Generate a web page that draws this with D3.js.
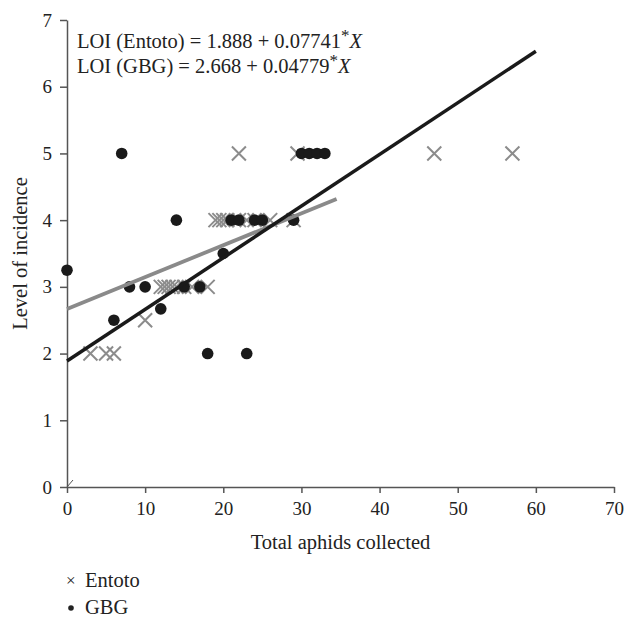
<!DOCTYPE html>
<html>
<head>
<meta charset="utf-8">
<script src="https://cdn.jsdelivr.net/npm/d3@7"></script>
<style>
  html, body { margin: 0; padding: 0; background: #fff; }
  svg { display: block; font-family: "Liberation Serif", "DejaVu Serif", serif; }
</style>
</head>
<body>
<svg id="chart" width="628" height="624"></svg>
<script>
// ---- Data ----
const entotoX = [3, 5, 6, 10, 12, 12.5, 13, 13.5, 14, 15, 16, 18, 19, 19.5, 20, 20.5, 22, 23, 24, 26, 29, 22, 29.5, 47, 57];
const entotoY = [2, 2, 2, 2.5, 3, 3, 3, 3, 3, 3, 3, 3, 4, 4, 4, 4, 4, 4, 4, 4, 4, 5, 5, 5, 5];
const gbgX = [0, 7, 6, 8, 10, 12, 14, 15, 17, 18, 20, 21, 22, 24, 25, 23, 29, 30, 31, 32, 33];
const gbgY = [3.25, 5, 2.5, 3, 3, 2.67, 4, 3, 3, 2, 3.5, 4, 4, 4, 4, 2, 4, 5, 5, 5, 5];
const lineEntoto = { intercept: 1.888, slope: 0.07741, xEnd: 60 };
const lineGBG = { intercept: 2.668, slope: 0.04779, xEnd: 34.5 };
const xTicks = [0, 10, 20, 30, 40, 50, 60, 70];
const yTicks = [0, 1, 2, 3, 4, 5, 6, 7];
const legendLabels = ["Entoto", "GBG"];

// ---- Layout ----
const svg = d3.select("#chart");
const x = d3.scaleLinear().domain([0, 70]).range([67, 614]);
const y = d3.scaleLinear().domain([0, 7]).range([487, 20]);
const axisColor = "#555";
const textColor = "#222";

// Axes
const gx = svg.append("g").attr("transform", `translate(0,${y(0)})`)
  .call(d3.axisBottom(x).tickValues(xTicks).tickFormat(d3.format("d")).tickSize(6).tickPadding(9).tickSizeOuter(0));
gx.selectAll("text").attr("font-size", 19).attr("fill", textColor).attr("font-family", "Liberation Serif, serif");
gx.selectAll("line, path").attr("stroke", axisColor).attr("stroke-width", 1.5);

const gy = svg.append("g").attr("transform", `translate(${x(0)},0)`)
  .call(d3.axisLeft(y).tickValues(yTicks).tickFormat(d3.format("d")).tickSize(7).tickPadding(8).tickSizeOuter(0));
gy.selectAll("text").attr("font-size", 19).attr("fill", textColor).attr("font-family", "Liberation Serif, serif");
gy.selectAll("line, path").attr("stroke", axisColor).attr("stroke-width", 1.5);

// Axis break slash at origin
svg.append("line")
  .attr("x1", x(0)).attr("y1", y(0))
  .attr("x2", x(0) + 6).attr("y2", y(0) - 7)
  .attr("stroke", axisColor).attr("stroke-width", 1);

// Axis titles
svg.append("text").attr("x", x(35)).attr("y", 549)
  .attr("text-anchor", "middle").attr("font-size", 20.5).attr("fill", textColor)
  .text("Total aphids collected");
svg.append("text")
  .attr("transform", `translate(27,${(y(0) + y(7)) / 2}) rotate(-90)`)
  .attr("text-anchor", "middle").attr("font-size", 20.5).attr("fill", textColor)
  .text("Level of incidence");

// Entoto crosses (gray)
const cs = 7;
const crosses = svg.append("g").attr("stroke", "#8c8c8c").attr("stroke-width", 2);
entotoX.forEach((d, i) => {
  const cx = x(d), cy = y(entotoY[i]);
  crosses.append("path").attr("d", `M${cx - cs},${cy - cs}L${cx + cs},${cy + cs}M${cx - cs},${cy + cs}L${cx + cs},${cy - cs}`);
});

// GBG dots (black)
svg.append("g").selectAll("circle").data(gbgX).join("circle")
  .attr("cx", d => x(d)).attr("cy", (d, i) => y(gbgY[i])).attr("r", 5.8)
  .attr("fill", "#1a1a1a");

// Regression lines
function regLine(l, color, w) {
  svg.append("line")
    .attr("x1", x(0)).attr("y1", y(l.intercept))
    .attr("x2", x(l.xEnd)).attr("y2", y(l.intercept + l.slope * l.xEnd))
    .attr("stroke", color).attr("stroke-width", w);
}
regLine(lineGBG, "#8a8a8a", 3.8);
regLine(lineEntoto, "#1a1a1a", 3.5);

// Equations
const eq = [
  ["LOI (Entoto) = 1.888 + 0.07741", 48],
  ["LOI (GBG) = 2.668 + 0.04779", 73]
];
eq.forEach(([t, by]) => {
  const tx = svg.append("text").attr("x", 77).attr("y", by).attr("font-size", 20.5).attr("fill", textColor);
  tx.append("tspan").text(t);
  tx.append("tspan").attr("dy", -7).attr("font-size", 17).text("*");
  tx.append("tspan").attr("dy", 7).attr("font-style", "italic").text("X");
});

// Legend
const lg = svg.append("g");
lg.append("text").attr("x", 66).attr("y", 586).attr("font-size", 17).attr("fill", textColor).text("×");
lg.append("text").attr("x", 85).attr("y", 587).attr("font-size", 20.5).attr("fill", textColor).text(legendLabels[0]);
lg.append("circle").attr("cx", 71).attr("cy", 608).attr("r", 2.8).attr("fill", textColor);
lg.append("text").attr("x", 85).attr("y", 614).attr("font-size", 20.5).attr("fill", textColor).text(legendLabels[1]);
</script>
</body>
</html>
